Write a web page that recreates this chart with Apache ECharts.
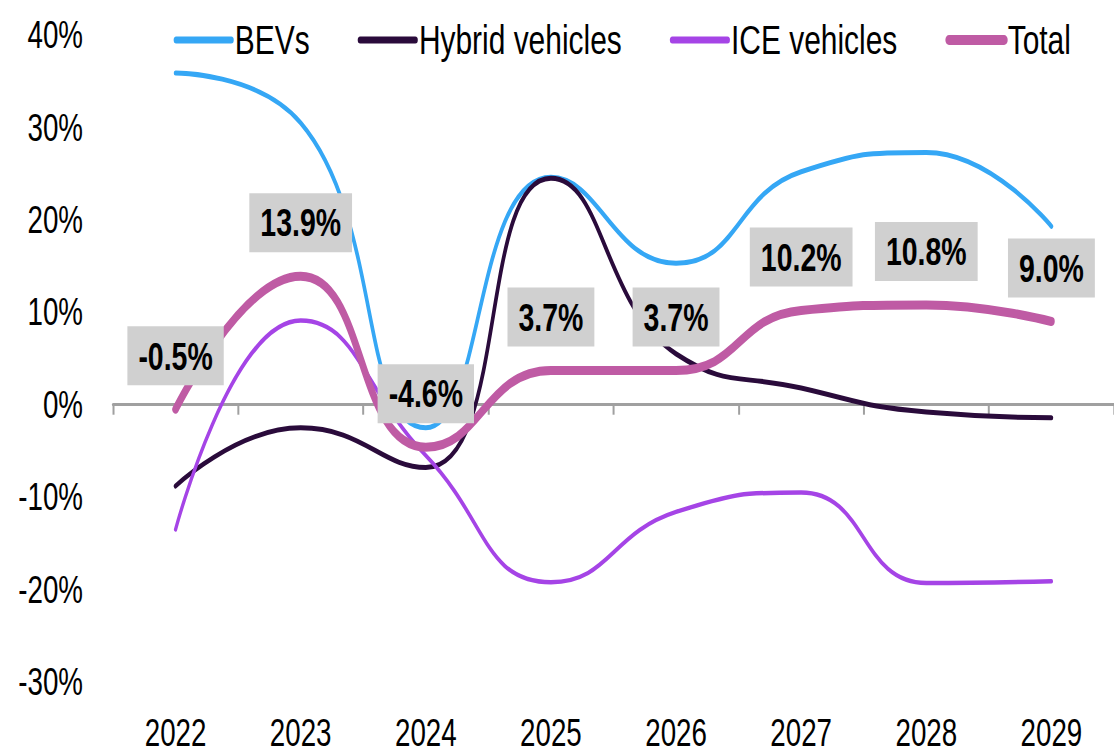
<!DOCTYPE html>
<html>
<head>
<meta charset="utf-8">
<script src="https://cdn.jsdelivr.net/npm/echarts@6/dist/echarts.min.js"></script>
<style>
html,body{margin:0;padding:0;background:#fff;overflow:hidden;}
#wrap{width:1114px;height:753px;overflow:hidden;position:relative;}
#c{width:1526px;height:753px;transform:scaleX(0.73);transform-origin:0 0;position:absolute;left:0;top:0;}
</style>
</head>
<body>
<div id="wrap"><div id="c"></div></div>
<script>
const years = ['2022','2023','2024','2025','2026','2027','2028','2029'];
const bevs = [35.9, 30.5, -2.5, 24.6, 15.3, 25.2, 27.3, 19.3];
const hybrid = [-8.8, -2.5, -6.8, 24.5, 5.5, 1.8, -0.8, -1.4];
const ice = [-13.5, 9.1, -5.5, -19.2, -11.6, -9.5, -19.3, -19.1];
const total = [-0.5, 13.9, -4.6, 3.7, 3.7, 10.2, 10.8, 9.0];
const seriesNames = ['BEVs', 'Hybrid vehicles', 'ICE vehicles', 'Total'];
const yTicks = { min: -30, max: 40, interval: 10 };

// horizontal condensing factor (emulates the narrow typeface of the original)
const S = 0.73;
const FONT = '"Liberation Sans", Arial, sans-serif';
const colors = ['#35a7f5', '#2a0b3b', '#a544e6', '#bf5ba4'];

const chart = echarts.init(document.getElementById('c'), null, { renderer: 'svg' });
chart.setOption({
  animation: false,
  backgroundColor: '#ffffff',
  color: colors,
  textStyle: { fontFamily: FONT },
  legend: {
    top: 13,
    left: 170 / S,
    itemWidth: 55 / S,
    itemHeight: 10,
    itemGap: 48 / S,
    itemStyle: { opacity: 0 },
    textStyle: { fontFamily: FONT, fontSize: 41, color: '#000', lineHeight: 44 },
    data: [
      { name: seriesNames[0], lineStyle: { width: 7, cap: 'round' } },
      { name: seriesNames[1], lineStyle: { width: 7, cap: 'round' } },
      { name: seriesNames[2], lineStyle: { width: 7, cap: 'round' } },
      { name: seriesNames[3], lineStyle: { width: 10, cap: 'round' } }
    ]
  },
  grid: { left: 113 / S, width: 1007 / S, top: 35, bottom: 71 },
  xAxis: [
    {
      type: 'category',
      data: years,
      position: 'bottom',
      boundaryGap: true,
      axisLine: { show: false, onZero: false },
      axisTick: { show: false },
      axisLabel: { fontFamily: FONT, fontSize: 38, lineHeight: 38, color: '#000', margin: 32, interval: 0 },
      splitLine: { show: false }
    },
    {
      type: 'category',
      data: years,
      position: 'bottom',
      boundaryGap: true,
      axisLine: { show: true, onZero: true, lineStyle: { color: '#a0a0a0', width: 3 } },
      axisTick: { show: true, length: 10, lineStyle: { color: '#a0a0a0', width: 2 / S } },
      axisLabel: { show: false },
      splitLine: { show: false }
    }
  ],
  yAxis: {
    type: 'value',
    min: yTicks.min,
    max: yTicks.max,
    interval: yTicks.interval,
    axisLine: { show: false },
    axisTick: { show: false },
    splitLine: { show: false },
    axisLabel: { fontFamily: FONT, fontSize: 38, color: '#000', margin: 30 / S, formatter: '{value}%' }
  },
  series: [
    { name: seriesNames[0], type: 'line', data: bevs, smooth: 0.5, symbol: 'none',
      lineStyle: { width: 5, color: colors[0], cap: 'round' } },
    { name: seriesNames[1], type: 'line', data: hybrid, smooth: 0.5, symbol: 'none',
      lineStyle: { width: 5, color: colors[1], cap: 'round' } },
    { name: seriesNames[2], type: 'line', data: ice, smooth: 0.5, symbol: 'none',
      lineStyle: { width: 4.5, color: colors[2], cap: 'round' } },
    { name: seriesNames[3], type: 'line', data: total, smooth: 0.5,
      symbol: 'circle', symbolSize: 2, showSymbol: true,
      itemStyle: { color: 'rgba(0,0,0,0)' },
      lineStyle: { width: 9, color: colors[3], cap: 'round' },
      label: {
        show: true,
        position: 'top',
        distance: 23,
        formatter: p => Number(p.value).toFixed(1) + '%',
        fontFamily: FONT,
        fontWeight: 'bold',
        fontSize: 39,
        color: '#000',
        backgroundColor: '#d0d0d0',
        padding: [10, 11 / S, 10, 11 / S],
        lineHeight: 39
      },
      labelLayout: { hideOverlap: false },
      z: 5
    }
  ]
});
</script>
</body>
</html>
